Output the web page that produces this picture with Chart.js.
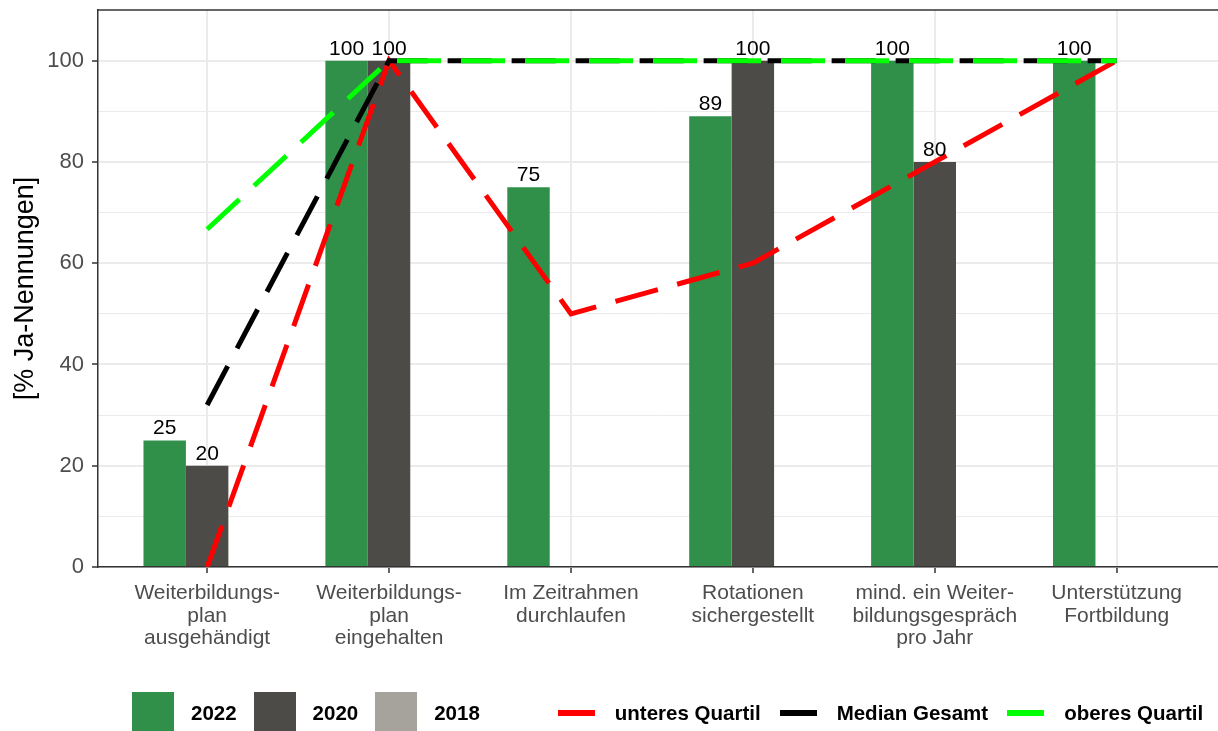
<!DOCTYPE html>
<html lang="de">
<head>
<meta charset="utf-8">
<title>Weiterbildung - Ja-Nennungen</title>
<script src="https://cdn.jsdelivr.net/npm/chart.js@4.4.1/dist/chart.umd.min.js"></script>
<style>
  body { margin: 0; background: #fff; }
  #rahmen { position: relative; width: 1218px; height: 731px; overflow: hidden; }
  #legende {
    position: absolute; left: 132px; top: 692px; height: 42px;
    display: flex; align-items: center; white-space: nowrap;
    font-family: "Liberation Sans", Arial, sans-serif; font-weight: bold; font-size: 20.5px; color: #000;
  }
  .kasten { width: 42px; height: 42px; margin-right: 17px; }
  .kastentext { margin-right: 17px; }
  .linie { width: 37px; height: 6px; margin-right: 20px; }
  .linientext { margin-right: 19px; }
</style>
</head>
<body>
<div id="rahmen">
  <canvas id="grafik" width="1218" height="731"></canvas>
  <div id="legende"></div>
</div>
<script>
// Daten
const kategorien = [
  ["Weiterbildungs-", "plan", "ausgehändigt"],
  ["Weiterbildungs-", "plan", "eingehalten"],
  ["Im Zeitrahmen", "durchlaufen"],
  ["Rotationen", "sichergestellt"],
  ["mind. ein Weiter-", "bildungsgespräch", "pro Jahr"],
  ["Unterstützung", "Fortbildung"]
];
const jahre = ["2022", "2020", "2018"];
const werte2022 = [25, 100, 75, 89, 100, 100];
const werte2020 = [20, 100, null, 100, 80, null];
const werte2018 = [null, null, null, null, null, null];
const linienNamen = ["unteres Quartil", "Median Gesamt", "oberes Quartil"];
const unteresQuartil = [0, 100, 50, 60, 80, 100];
const medianGesamt = [32, 100, 100, 100, 100, 100];
const oberesQuartil = [66.7, 100, 100, 100, 100, 100];
const yTicks = [0, 10, 20, 30, 40, 50, 60, 70, 80, 90, 100];

// Farben
const balkenFarben = ["#30904A", "#4D4B47", "#A6A39C"];
const linienFarben = ["#FF0000", "#000000", "#00FF00"];

const schrift = "'Liberation Sans', Arial, sans-serif";

function punkte(werte) {
  return werte.map((v, i) => ({ x: i, y: v }));
}

const balkenWerte = [werte2022, werte2020, werte2018];
const linienWerte = [unteresQuartil, medianGesamt, oberesQuartil];

const datensaetze = [];
jahre.forEach((jahr, i) => {
  datensaetze.push({
    type: "bar",
    label: jahr,
    data: punkte(balkenWerte[i]),
    backgroundColor: balkenFarben[i],
    categoryPercentage: 0.7,
    barPercentage: 1,
    order: 10
  });
});
linienNamen.forEach((name, i) => {
  datensaetze.push({
    type: "line",
    label: name,
    data: punkte(linienWerte[i]),
    borderColor: linienFarben[i],
    borderWidth: 5,
    borderDash: [44, 20],
    borderCapStyle: "butt",
    pointRadius: 0,
    fill: false,
    tension: 0,
    order: 3 - i
  });
});

// Werte ueber den Balken
const balkenBeschriftung = {
  id: "balkenBeschriftung",
  afterDatasetsDraw(chart) {
    const ctx = chart.ctx;
    ctx.save();
    ctx.font = "21px " + schrift;
    ctx.fillStyle = "#000";
    ctx.textAlign = "center";
    ctx.textBaseline = "alphabetic";
    chart.data.datasets.forEach((ds, i) => {
      if (ds.type !== "bar") return;
      chart.getDatasetMeta(i).data.forEach((el, j) => {
        const v = ds.data[j].y;
        if (v === null) return;
        ctx.fillText(String(v), el.x, el.y - 6);
      });
    });
    ctx.restore();
  }
};

// obere Rahmenlinie des Panels
const rahmenOben = {
  id: "rahmenOben",
  afterDraw(chart) {
    const a = chart.chartArea;
    const ctx = chart.ctx;
    ctx.save();
    ctx.strokeStyle = "#333333";
    ctx.lineWidth = 1.5;
    ctx.beginPath();
    ctx.moveTo(a.left, a.top);
    ctx.lineTo(a.right, a.top);
    ctx.stroke();
    ctx.restore();
  }
};

new Chart(document.getElementById("grafik"), {
  type: "bar",
  data: { datasets: datensaetze },
  options: {
    responsive: false,
    animation: false,
    events: [],
    layout: { padding: { top: 10, left: 0, right: 0, bottom: 64 } },
    plugins: { legend: { display: false }, tooltip: { enabled: false } },
    scales: {
      x: {
        type: "linear",
        min: -0.6,
        max: 5.557,
        offset: false,
        afterBuildTicks: s => { s.ticks = kategorien.map((_, i) => ({ value: i })); },
        afterFit: s => { s.height = 100; s.paddingLeft = 0; s.paddingRight = 0; },
        grid: { offset: false, color: "#EBEBEB", lineWidth: 2, tickColor: "#333333", tickLength: 6, tickWidth: 1.5 },
        border: { display: true, color: "#333333", width: 1.5 },
        ticks: {
          autoSkip: false, maxRotation: 0, padding: 9,
          color: "#4D4D4D",
          font: { family: schrift, size: 21, lineHeight: 1.07 },
          callback: v => kategorien[v]
        }
      },
      y: {
        min: 0,
        max: 110,
        afterBuildTicks: s => { s.ticks = yTicks.map(v => ({ value: v })); },
        afterFit: s => { s.width = 98; s.paddingTop = 0; s.paddingBottom = 0; },
        grid: {
          color: "#EBEBEB",
          lineWidth: c => (c.tick && c.tick.value % 20 === 0 ? 2 : 1),
          tickColor: c => (c.tick && c.tick.value % 20 === 0 ? "#333333" : "rgba(0,0,0,0)"),
          tickLength: 6,
          tickWidth: 1.5
        },
        border: { display: true, color: "#333333", width: 1.5 },
        ticks: {
          padding: 8,
          color: "#4D4D4D",
          font: { family: schrift, size: 22 },
          callback: v => (v % 20 === 0 ? String(v) : "")
        },
        title: {
          display: true,
          text: "[% Ja-Nennungen]",
          color: "#000",
          font: { family: schrift, size: 27 },
          padding: { top: 9, bottom: 0 }
        }
      }
    }
  },
  plugins: [balkenBeschriftung, rahmenOben]
});

// Legende unten
function baueLegende() {
  const legende = document.getElementById("legende");
  jahre.forEach((jahr, i) => {
    const kasten = document.createElement("span");
    kasten.className = "kasten";
    kasten.style.background = balkenFarben[i];
    legende.appendChild(kasten);
    const text = document.createElement("span");
    text.className = "kastentext";
    text.textContent = jahr;
    if (i === jahre.length - 1) text.style.marginRight = "78px";
    legende.appendChild(text);
  });
  linienNamen.forEach((name, i) => {
    const linie = document.createElement("span");
    linie.className = "linie";
    linie.style.background = linienFarben[i];
    legende.appendChild(linie);
    const text = document.createElement("span");
    text.className = "linientext";
    text.textContent = name;
    legende.appendChild(text);
  });
}

baueLegende();
</script>
</body>
</html>
